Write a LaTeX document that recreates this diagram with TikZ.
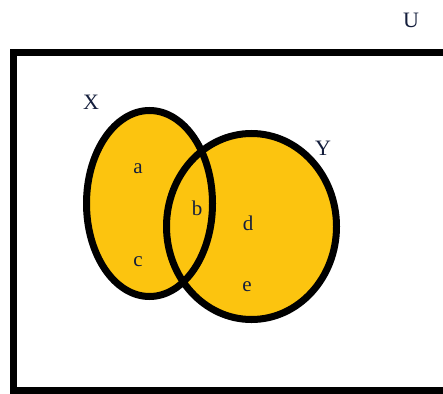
\documentclass[tikz,border=0pt]{standalone}
\usepackage{fontspec}
\setmainfont{Liberation Serif}
\definecolor{vennyellow}{RGB}{252,196,15}
\definecolor{labelblue}{RGB}{20,30,60}
\tikzset{
  setline/.style={line width=7pt, draw=black},
  lbl/.style={font=\fontsize{22}{22}\selectfont, text=labelblue, inner sep=0pt},
  elt/.style={font=\fontsize{21}{21}\selectfont, text=labelblue, inner sep=0pt}
}
\begin{document}
\begin{tikzpicture}[x=1pt,y=-1pt]
\useasboundingbox (0,0) rectangle (443,393);
\clip (0,0) rectangle (443,393);
\fill[white] (0,0) rectangle (443,393);
\draw[line width=7pt] (13.5,53) rectangle (470,390);
\coordinate (Xc) at (149.5,203.5);
\coordinate (Yc) at (251.5,226.5);
\fill[vennyellow] (Xc) ellipse [x radius=63, y radius=93];
\fill[vennyellow] (Yc) ellipse [x radius=85, y radius=93];
\draw[setline] (Xc) ellipse [x radius=63, y radius=93];
\draw[setline] (Yc) ellipse [x radius=85, y radius=93];
\node[lbl] (U) at (411,20) {U};
\node[lbl] (X) at (91,102) {X};
\node[lbl] (Y) at (323,148) {Y};
\node[elt] (a) at (138,169) {a};
\node[elt] (b) at (197,208) {b};
\node[elt] (c) at (138,262) {c};
\node[elt] (d) at (248,223) {d};
\node[elt] (e) at (247,287) {e};
\end{tikzpicture}
\end{document}
